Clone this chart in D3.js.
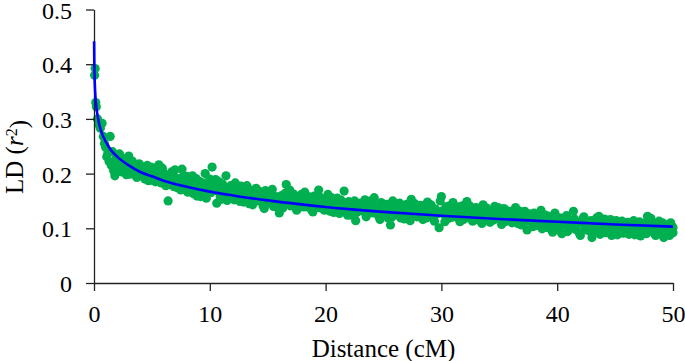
<!DOCTYPE html>
<html>
<head>
<meta charset="utf-8">
<script src="https://cdn.jsdelivr.net/npm/d3@7"></script>
<style>
  body { margin: 0; background: #fff; }
  svg { display: block; }
</style>
</head>
<body>
<div id="chart"></div>
<script>
const serif = "Liberation Serif, Times New Roman, serif";

// Scatter points: distance (cM) and LD (r^2)
const distance = [
  0.05, 0.1, 0.15, 0.2, 0.3, 0.4, 0.55, 0.7, 0.8, 0.9,
  1.0, 1.1, 1.2, 1.3, 1.4, 1.5, 1.6, 1.7, 1.8, 1.9,
  2.0, 2.2, 2.4, 2.6, 2.8, 3.0, 3.2, 3.4, 3.6, 3.8,
  4.0, 4.2, 4.4, 4.6, 4.8, 5.0, 5.2, 5.4, 5.6, 5.8,
  6.0, 6.2, 6.4, 6.6, 6.8, 7.0, 7.2, 7.4, 7.6, 7.8,
  8.0, 8.2, 8.4, 8.6, 8.8, 9.0, 9.2, 9.4, 9.6, 9.8,
  10.0, 10.2, 10.4, 10.6, 10.8, 11.0, 11.2, 11.4, 11.6, 11.8,
  12.0, 12.2, 12.4, 12.6, 12.8, 13.0, 13.2, 13.4, 13.6, 13.8,
  14.0, 14.2, 14.4, 14.6, 14.8, 15.0, 15.2, 15.4, 15.6, 15.8,
  16.0, 16.2, 16.4, 16.6, 16.8, 17.0, 17.2, 17.4, 17.6, 17.8,
  18.0, 18.2, 18.4, 18.6, 18.8, 19.0, 19.2, 19.4, 19.6, 19.8,
  20.0, 20.2, 20.4, 20.6, 20.8, 21.0, 21.2, 21.4, 21.6, 21.8,
  22.0, 22.2, 22.4, 22.6, 22.8, 23.0, 23.2, 23.4, 23.6, 23.8,
  24.0, 24.2, 24.4, 24.6, 24.8, 25.0, 25.2, 25.4, 25.6, 25.8,
  26.0, 26.2, 26.4, 26.6, 26.8, 27.0, 27.2, 27.4, 27.6, 27.8,
  28.0, 28.2, 28.4, 28.6, 28.8, 29.0, 29.2, 29.4, 29.6, 29.8,
  30.0, 30.2, 30.4, 30.6, 30.8, 31.0, 31.2, 31.4, 31.6, 31.8,
  32.0, 32.2, 32.4, 32.6, 32.8, 33.0, 33.2, 33.4, 33.6, 33.8,
  34.0, 34.2, 34.4, 34.6, 34.8, 35.0, 35.2, 35.4, 35.6, 35.8,
  36.0, 36.2, 36.4, 36.6, 36.8, 37.0, 37.2, 37.4, 37.6, 37.8,
  38.0, 38.2, 38.4, 38.6, 38.8, 39.0, 39.2, 39.4, 39.6, 39.8,
  40.0, 40.2, 40.4, 40.6, 40.8, 41.0, 41.2, 41.4, 41.6, 41.8,
  42.0, 42.2, 42.4, 42.6, 42.8, 43.0, 43.2, 43.4, 43.6, 43.8,
  44.0, 44.2, 44.4, 44.6, 44.8, 45.0, 45.2, 45.4, 45.6, 45.8,
  46.0, 46.2, 46.4, 46.6, 46.8, 47.0, 47.2, 47.4, 47.6, 47.8,
  48.0, 48.2, 48.4, 48.6, 48.8, 49.0, 49.2, 49.4, 49.6, 49.8,
  50.0, 50.0,
  2.1, 2.3, 2.5, 2.7, 2.9, 3.1, 3.3, 3.5, 3.7, 3.9,
  4.1, 4.3, 4.5, 4.7, 4.9, 5.1, 5.3, 5.5, 5.7, 5.9,
  6.1, 6.3, 6.5, 6.7, 6.9, 7.1, 7.3, 7.5, 7.7, 7.9,
  8.1, 8.3, 8.5, 8.7, 8.9, 9.1, 9.3, 9.5, 9.7, 9.9,
  10.1, 10.3, 10.5, 10.7, 10.9, 11.1, 11.3, 11.5, 11.7, 11.9,
  12.1, 12.3, 12.5, 12.7, 12.9, 13.1, 13.3, 13.5, 13.7, 13.9,
  14.1, 14.3, 14.5, 14.7, 14.9, 15.1, 15.3, 15.5, 15.7, 15.9,
  16.1, 16.3, 16.5, 16.7, 16.9, 17.1, 17.3, 17.5, 17.7, 17.9,
  18.1, 18.3, 18.5, 18.7, 18.9, 19.1, 19.3, 19.5, 19.7, 19.9,
  20.1, 20.3, 20.5, 20.7, 20.9, 21.1, 21.3, 21.5, 21.7, 21.9,
  22.1, 22.3, 22.5, 22.7, 22.9, 23.1, 23.3, 23.5, 23.7, 23.9,
  24.1, 24.3, 24.5, 24.7, 24.9, 25.1, 25.3, 25.5, 25.7, 25.9,
  26.1, 26.3, 26.5, 26.7, 26.9, 27.1, 27.3, 27.5, 27.7, 27.9,
  28.1, 28.3, 28.5, 28.7, 28.9, 29.1, 29.3, 29.5, 29.7, 29.9,
  30.1, 30.3, 30.5, 30.7, 30.9, 31.1, 31.3, 31.5, 31.7, 31.9,
  32.1, 32.3, 32.5, 32.7, 32.9, 33.1, 33.3, 33.5, 33.7, 33.9,
  34.1, 34.3, 34.5, 34.7, 34.9, 35.1, 35.3, 35.5, 35.7, 35.9,
  36.1, 36.3, 36.5, 36.7, 36.9, 37.1, 37.3, 37.5, 37.7, 37.9,
  38.1, 38.3, 38.5, 38.7, 38.9, 39.1, 39.3, 39.5, 39.7, 39.9,
  40.1, 40.3, 40.5, 40.7, 40.9, 41.1, 41.3, 41.5, 41.7, 41.9,
  42.1, 42.3, 42.5, 42.7, 42.9, 43.1, 43.3, 43.5, 43.7, 43.9,
  44.1, 44.3, 44.5, 44.7, 44.9, 45.1, 45.3, 45.5, 45.7, 45.9,
  46.1, 46.3, 46.5, 46.7, 46.9, 47.1, 47.3, 47.5, 47.7, 47.9,
  48.1, 48.3, 48.5, 48.7, 48.9, 49.1, 49.3, 49.5, 49.7, 49.9
];
const ldValue = [
  0.380, 0.392, 0.330, 0.322, 0.300, 0.290, 0.283, 0.292, 0.268, 0.255,
  0.248, 0.231, 0.238, 0.222, 0.268, 0.215, 0.240, 0.205, 0.196, 0.228,
  0.212, 0.236, 0.203, 0.219, 0.198, 0.232, 0.206, 0.214, 0.197, 0.209,
  0.201, 0.213, 0.190, 0.215, 0.205, 0.188, 0.210, 0.196, 0.216, 0.183,
  0.201, 0.178, 0.150, 0.192, 0.185, 0.207, 0.174, 0.189, 0.208, 0.178,
  0.195, 0.172, 0.186, 0.163, 0.191, 0.175, 0.158, 0.183, 0.200, 0.167,
  0.190, 0.212, 0.176, 0.146, 0.185, 0.153, 0.171, 0.196, 0.164, 0.178,
  0.158, 0.183, 0.167, 0.149, 0.172, 0.160, 0.178, 0.145, 0.166, 0.155,
  0.173, 0.150, 0.162, 0.141, 0.169, 0.157, 0.146, 0.171, 0.152, 0.139,
  0.128, 0.160, 0.148, 0.180, 0.155, 0.141, 0.163, 0.150, 0.136, 0.158,
  0.145, 0.166, 0.139, 0.152, 0.133, 0.159, 0.144, 0.170, 0.137, 0.150,
  0.141, 0.162, 0.131, 0.148, 0.137, 0.155, 0.127, 0.144, 0.168, 0.135,
  0.149, 0.124, 0.141, 0.114, 0.132, 0.146, 0.138, 0.152, 0.127, 0.143,
  0.131, 0.156, 0.136, 0.121, 0.147, 0.133, 0.141, 0.119, 0.106, 0.150,
  0.138, 0.124, 0.146, 0.132, 0.117, 0.144, 0.128, 0.153, 0.122, 0.136,
  0.127, 0.142, 0.116, 0.133, 0.148, 0.124, 0.137, 0.113, 0.131, 0.101,
  0.158, 0.126, 0.139, 0.118, 0.134, 0.147, 0.121, 0.130, 0.112, 0.141,
  0.126, 0.149, 0.119, 0.133, 0.124, 0.138, 0.115, 0.129, 0.143, 0.120,
  0.132, 0.111, 0.127, 0.140, 0.118, 0.129, 0.107, 0.136, 0.122, 0.114,
  0.131, 0.119, 0.138, 0.109, 0.125, 0.116, 0.131, 0.097, 0.121, 0.112,
  0.128, 0.105, 0.119, 0.133, 0.110, 0.124, 0.101, 0.116, 0.093, 0.128,
  0.108, 0.119, 0.090, 0.112, 0.123, 0.104, 0.115, 0.131, 0.098, 0.110,
  0.087, 0.117, 0.101, 0.112, 0.095, 0.083, 0.108, 0.119, 0.122, 0.099,
  0.111, 0.092, 0.104, 0.116, 0.096, 0.109, 0.088, 0.102, 0.113, 0.094,
  0.106, 0.089, 0.100, 0.114, 0.093, 0.105, 0.086, 0.099, 0.110, 0.122,
  0.097, 0.108, 0.090, 0.103, 0.113, 0.095, 0.083, 0.106, 0.098, 0.110,
  0.092, 0.101,
  0.221, 0.209, 0.228, 0.202, 0.216, 0.199, 0.223, 0.205, 0.193, 0.218,
  0.196, 0.207, 0.199, 0.187, 0.212, 0.200, 0.185, 0.205, 0.194, 0.210,
  0.189, 0.197, 0.180, 0.203, 0.176, 0.192, 0.183, 0.170, 0.195, 0.186,
  0.166, 0.181, 0.196, 0.174, 0.159, 0.186, 0.170, 0.179, 0.155, 0.181,
  0.165, 0.174, 0.189, 0.168, 0.158, 0.181, 0.162, 0.151, 0.175, 0.167,
  0.152, 0.171, 0.160, 0.177, 0.148, 0.165, 0.156, 0.170, 0.143, 0.161,
  0.158, 0.167, 0.152, 0.136, 0.160, 0.149, 0.163, 0.140, 0.158, 0.146,
  0.153, 0.137, 0.164, 0.149, 0.170, 0.144, 0.156, 0.133, 0.151, 0.162,
  0.139, 0.150, 0.158, 0.143, 0.130, 0.151, 0.138, 0.157, 0.145, 0.133,
  0.150, 0.143, 0.156, 0.129, 0.146, 0.140, 0.152, 0.133, 0.147, 0.124,
  0.142, 0.136, 0.150, 0.129, 0.140, 0.132, 0.146, 0.121, 0.137, 0.150,
  0.128, 0.141, 0.133, 0.116, 0.138, 0.126, 0.144, 0.131, 0.120, 0.139,
  0.130, 0.145, 0.119, 0.136, 0.127, 0.140, 0.114, 0.132, 0.145, 0.121,
  0.135, 0.125, 0.139, 0.119, 0.131, 0.143, 0.122, 0.135, 0.127, 0.150,
  0.132, 0.112, 0.129, 0.141, 0.120, 0.135, 0.124, 0.139, 0.128, 0.116,
  0.133, 0.121, 0.140, 0.113, 0.129, 0.122, 0.136, 0.109, 0.125, 0.137,
  0.120, 0.131, 0.115, 0.126, 0.138, 0.118, 0.127, 0.112, 0.132, 0.121,
  0.110, 0.126, 0.117, 0.132, 0.106, 0.122, 0.113, 0.127, 0.118, 0.103,
  0.121, 0.112, 0.126, 0.099, 0.116, 0.109, 0.122, 0.112, 0.104, 0.119,
  0.097, 0.113, 0.106, 0.120, 0.094, 0.111, 0.103, 0.117, 0.108, 0.092,
  0.110, 0.121, 0.097, 0.106, 0.114, 0.093, 0.102, 0.112, 0.089, 0.106,
  0.117, 0.099, 0.110, 0.087, 0.103, 0.114, 0.096, 0.107, 0.091, 0.100,
  0.111, 0.095, 0.106, 0.088, 0.101, 0.112, 0.093, 0.103, 0.090, 0.107,
  0.118, 0.098, 0.087, 0.105, 0.096, 0.110, 0.091, 0.102, 0.087, 0.104
];

// Fitted trend line
const curveDistance = [0.01, 0.02, 0.05, 0.1, 0.2, 0.3, 0.5, 0.75, 1, 1.5, 2, 3, 4, 5, 6, 8, 10, 12, 15, 20, 25, 30, 35, 40, 45, 50];
const curveLD = [0.442, 0.414, 0.378, 0.350, 0.323, 0.307, 0.286, 0.270, 0.259, 0.242, 0.231, 0.215, 0.203, 0.195, 0.187, 0.176, 0.167, 0.160, 0.151, 0.139, 0.130, 0.123, 0.117, 0.112, 0.107, 0.103];

const xTicks = [0, 10, 20, 30, 40, 50];
const yTicks = [0, 0.1, 0.2, 0.3, 0.4, 0.5];
const yTickLabels = ["0", "0.1", "0.2", "0.3", "0.4", "0.5"];

const width = 685, height = 361;
const plot = { left: 94, right: 673, top: 9.5, bottom: 283 };

const svg = d3.select("#chart").append("svg")
    .attr("width", width)
    .attr("height", height)
    .attr("font-family", serif);

const xScale = d3.scaleLinear().domain([0, 50]).range([plot.left, plot.right]);
const yScale = d3.scaleLinear().domain([0, 0.5]).range([plot.bottom, plot.top]);

// Scatter
const points = distance.map((d, i) => ({ x: d, y: ldValue[i] }));
svg.append("g")
    .selectAll("circle")
    .data(points)
    .enter()
    .append("circle")
    .attr("cx", d => xScale(d.x))
    .attr("cy", d => yScale(d.y))
    .attr("r", 4.6)
    .attr("fill", "#00b050");

// Axes
const xAxis = d3.axisBottom(xScale).tickValues(xTicks).tickSize(8).tickSizeOuter(0).tickPadding(5);
const yAxis = d3.axisLeft(yScale).tickValues(yTicks).tickSize(8).tickSizeOuter(0).tickPadding(14)
    .tickFormat((d, i) => yTickLabels[i]);

const gx = svg.append("g")
    .attr("transform", "translate(0," + plot.bottom + ")")
    .call(xAxis)
    .attr("font-family", serif)
    .attr("font-size", 24);
gx.selectAll("text")
    .attr("dy", null)
    .attr("y", 38.7)
    .attr("fill", "#000")
    .attr("font-family", serif);

const gy = svg.append("g")
    .attr("transform", "translate(" + plot.left + ",0)")
    .call(yAxis)
    .attr("font-family", serif)
    .attr("font-size", 24);
gy.selectAll("text")
    .attr("dy", "0.36em")
    .attr("fill", "#000")
    .attr("font-family", serif);

svg.selectAll(".domain, .tick line")
    .attr("stroke", "#222")
    .attr("stroke-width", 1.3);

// Axis titles
svg.append("text")
    .attr("x", (plot.left + plot.right) / 2)
    .attr("y", 356.5)
    .attr("text-anchor", "middle")
    .attr("font-size", 25)
    .text("Distance (cM)");

const yTitle = svg.append("text")
    .attr("transform", "translate(23,157) rotate(-90)")
    .attr("text-anchor", "middle")
    .attr("font-size", 25);
yTitle.append("tspan").text("LD (");
yTitle.append("tspan").attr("font-style", "italic").text("r");
yTitle.append("tspan").attr("dy", "-0.4em").attr("font-size", 16).text("2");
yTitle.append("tspan").attr("dy", "0.4em").text(")");

// Trend line
const curve = curveDistance.map((d, i) => ({ x: d, y: curveLD[i] }));
const line = d3.line()
    .x(d => xScale(d.x))
    .y(d => yScale(d.y))
    .curve(d3.curveMonotoneX);

svg.append("path")
    .datum(curve)
    .attr("fill", "none")
    .attr("stroke", "#0000ff")
    .attr("stroke-width", 2.6)
    .attr("d", line);
</script>
</body>
</html>
